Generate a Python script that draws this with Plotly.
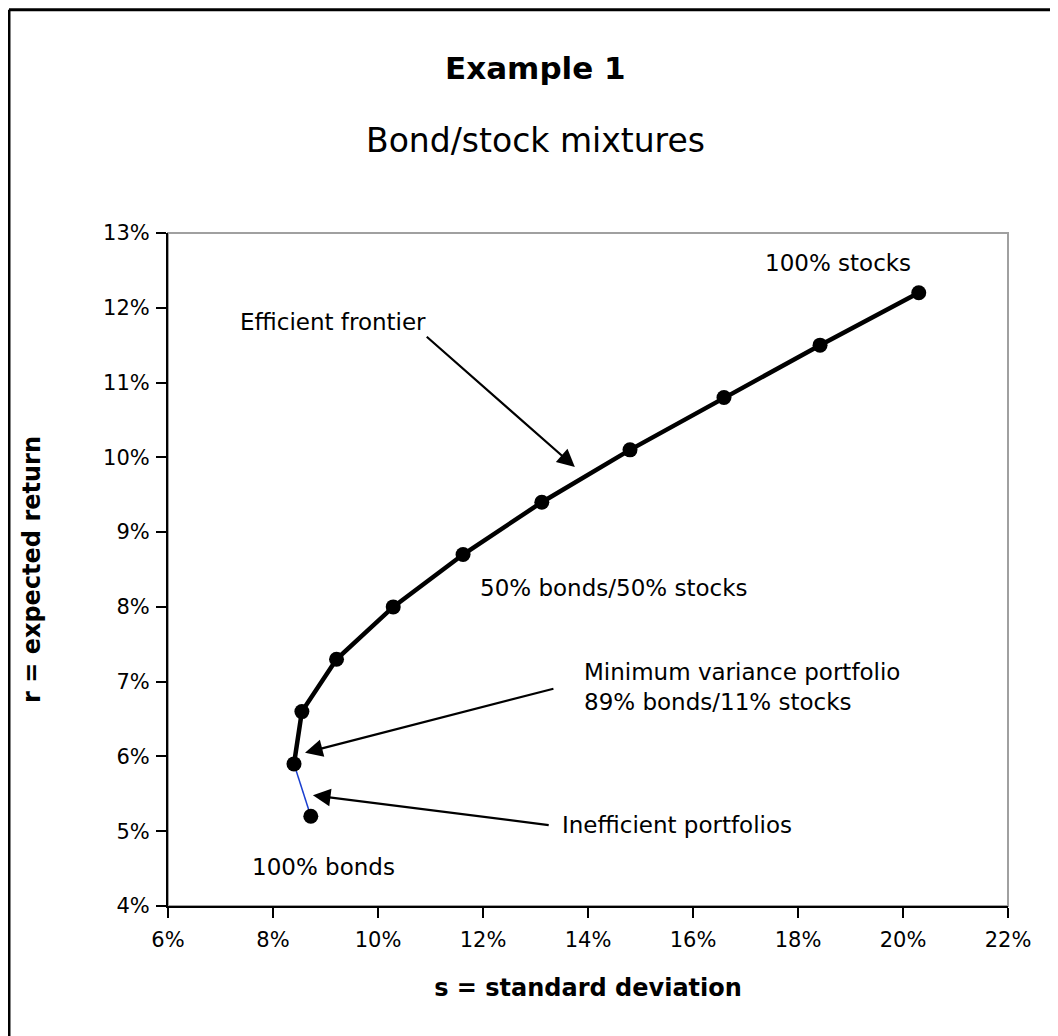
import plotly.graph_objects as go

# Portfolio data (percent)
labels = ["100% bonds", "90/10", "80/20", "70/30", "60/40", "50/50",
          "40/60", "30/70", "20/80", "10/90", "100% stocks"]
std_dev = [8.72, 8.40, 8.55, 9.21, 10.29, 11.62, 13.12, 14.80, 16.59, 18.42, 20.30]
exp_ret = [5.2, 5.9, 6.6, 7.3, 8.0, 8.7, 9.4, 10.1, 10.8, 11.5, 12.2]

x_ticks = [6, 8, 10, 12, 14, 16, 18, 20, 22]
y_ticks = [4, 5, 6, 7, 8, 9, 10, 11, 12, 13]

FONT = "DejaVu Sans"

fig = go.Figure()

# Inefficient segment (blue thin)
fig.add_trace(go.Scatter(
    x=std_dev[:2], y=exp_ret[:2], mode="lines",
    line=dict(color="#1a3fcf", width=1.5), showlegend=False, hoverinfo="skip"))
# Efficient frontier (black thick)
fig.add_trace(go.Scatter(
    x=std_dev[1:], y=exp_ret[1:], mode="lines",
    line=dict(color="black", width=4.5), showlegend=False, hoverinfo="skip"))
# Markers
fig.add_trace(go.Scatter(
    x=std_dev, y=exp_ret, mode="markers", text=labels,
    marker=dict(color="black", size=15), showlegend=False))

ann = []
# Text labels (data coords)
texts = [
    ("100% stocks", 17.33, 12.60),
    ("Efficient frontier", 7.33, 11.81),
    ("50% bonds/50% stocks", 11.90, 8.25),
    ("Minimum variance portfolio<br>89% bonds/11% stocks", 13.89, 6.93),
    ("Inefficient portfolios", 13.47, 5.08),
    ("100% bonds", 7.56, 4.52),
]
for t, x, y in texts:
    ann.append(dict(text=t, x=x, y=y, xref="x", yref="y", xanchor="left",
                    yanchor="middle", showarrow=False, align="left",
                    font=dict(family=FONT, size=23, color="black")))

# Arrows: (head_x, head_y, tail_x, tail_y)
arrows = [
    (13.75, 9.87, 10.90, 11.63),
    (8.61, 6.05, 13.37, 6.91),
    (8.76, 5.48, 13.28, 5.08),
]
for hx, hy, tx, ty in arrows:
    ann.append(dict(x=hx, y=hy, ax=tx, ay=ty, xref="x", yref="y",
                    axref="x", ayref="y", text="", showarrow=True,
                    arrowhead=2, arrowsize=1.6, arrowwidth=2.2,
                    arrowcolor="black"))

# Titles
ann.append(dict(text="<b>Example 1</b>", x=0.438, y=1.245, xref="paper",
                yref="paper", showarrow=False, xanchor="center", yanchor="middle",
                font=dict(family=FONT, size=31, color="black")))
ann.append(dict(text="Bond/stock mixtures", x=0.438, y=1.138, xref="paper",
                yref="paper", showarrow=False, xanchor="center", yanchor="middle",
                font=dict(family=FONT, size=33, color="black")))

fig.update_layout(
    width=1050, height=1028,
    margin=dict(l=160, r=50, t=225, b=130),
    paper_bgcolor="white", plot_bgcolor="white",
    annotations=ann,
    font=dict(family=FONT, color="black"),
    shapes=[
        # plot-area frame (gray)
        dict(type="rect", xref="paper", yref="paper", x0=0, y0=0, x1=1, y1=1,
             line=dict(color="#a0a0a0", width=2), layer="below"),
        # outer figure border (left and top)
        dict(type="line", xref="paper", yref="paper", x0=-0.1893, x1=-0.1893,
             y0=-0.2, y1=1.3318, line=dict(color="black", width=3)),
        dict(type="line", xref="paper", yref="paper", x0=-0.1893, x1=1.07,
             y0=1.3318, y1=1.3318, line=dict(color="black", width=3)),
    ],
)

fig.update_xaxes(
    range=[6, 22], tickvals=x_ticks, ticktext=[f"{v}%" for v in x_ticks],
    showgrid=False, zeroline=False, showline=True, linecolor="black", linewidth=2,
    ticks="outside", ticklen=10, tickwidth=2, tickcolor="black",
    ticklabelstandoff=4,
    tickfont=dict(family=FONT, size=21, color="black"),
    title=dict(text="<b>s = standard deviation</b>", standoff=28,
               font=dict(family=FONT, size=24, color="black")))
fig.update_yaxes(
    range=[4, 13], tickvals=y_ticks, ticktext=[f"{v}%" for v in y_ticks],
    showgrid=False, zeroline=False, showline=True, linecolor="black", linewidth=2,
    ticks="outside", ticklen=10, tickwidth=2, tickcolor="black",
    ticklabelstandoff=2,
    tickfont=dict(family=FONT, size=21, color="black"),
    title=dict(text="<b>r = expected return</b>", standoff=56,
               font=dict(family=FONT, size=24, color="black")))

fig.write_html("out.html")
